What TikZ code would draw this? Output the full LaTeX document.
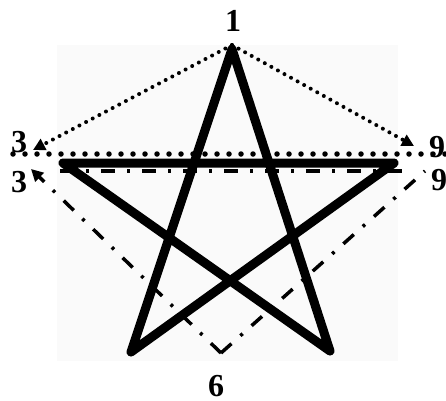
\documentclass[tikz,border=0pt]{standalone}
\usepackage{fontspec}
\setmainfont{Liberation Serif}
\usetikzlibrary{arrows.meta}
\begin{document}
\begin{tikzpicture}[x=1pt,y=-1pt,
 lbl/.style={font=\fontsize{32}{32}\selectfont\bfseries, inner sep=0pt, text depth=0pt, anchor=center},
 starline/.style={line width=9pt, line join=round},
 dotline/.style={line width=4pt, line cap=round, dash pattern=on 0pt off 7.5pt},
 hdotline/.style={line width=5.5pt, line cap=round, dash pattern=on 0pt off 12pt},
 dashdot/.style={line width=3.5pt, dash pattern=on 14pt off 12pt on 3pt off 12pt},
 tipstyle/.style={-{Triangle[length=12pt,width=12pt]}}
]
\useasboundingbox (0,0) rectangle (446,400);
\fill[black!2] (57,45) rectangle (398,361);
% star vertices
\coordinate (T) at (232,49);
\coordinate (L) at (63,163);
\coordinate (R) at (394,163);
\coordinate (BL) at (131,352);
\coordinate (BR) at (330,351);
% other points
\coordinate (A) at (232,45);
\coordinate (B) at (221,353);
\coordinate (UL) at (33,150);
\coordinate (UR) at (414,146);
\coordinate (LL) at (31,169);
\coordinate (LR) at (425,171);
\coordinate (H1) at (13,154);
\coordinate (H2) at (446,154);
\coordinate (D1) at (60,171);
\coordinate (D2) at (413,171);
% labels
\node[lbl] (n1) at (233,21) {1};
\node[lbl] (n3a) at (19,142) {3};
\node[lbl] (n3b) at (19,182) {3};
\node[lbl] (n9a) at (437,147) {9};
\node[lbl] (n9b) at (439,180) {9};
\node[lbl] (n6) at (216,386) {6};
% star
\draw[starline] (T) -- (BL) -- (R) -- (L) -- (BR) -- cycle;
% dotted
\draw[hdotline] (H1) -- (H2);
\draw[dotline,tipstyle] (A) -- (UL);
\draw[dotline,tipstyle] (A) -- (UR);
% dash-dot
\draw[dashdot] (D1) -- (D2);
\draw[dashdot,tipstyle] (B) -- (LL);
\draw[dashdot] (B) -- (LR);
\end{tikzpicture}
\end{document}
